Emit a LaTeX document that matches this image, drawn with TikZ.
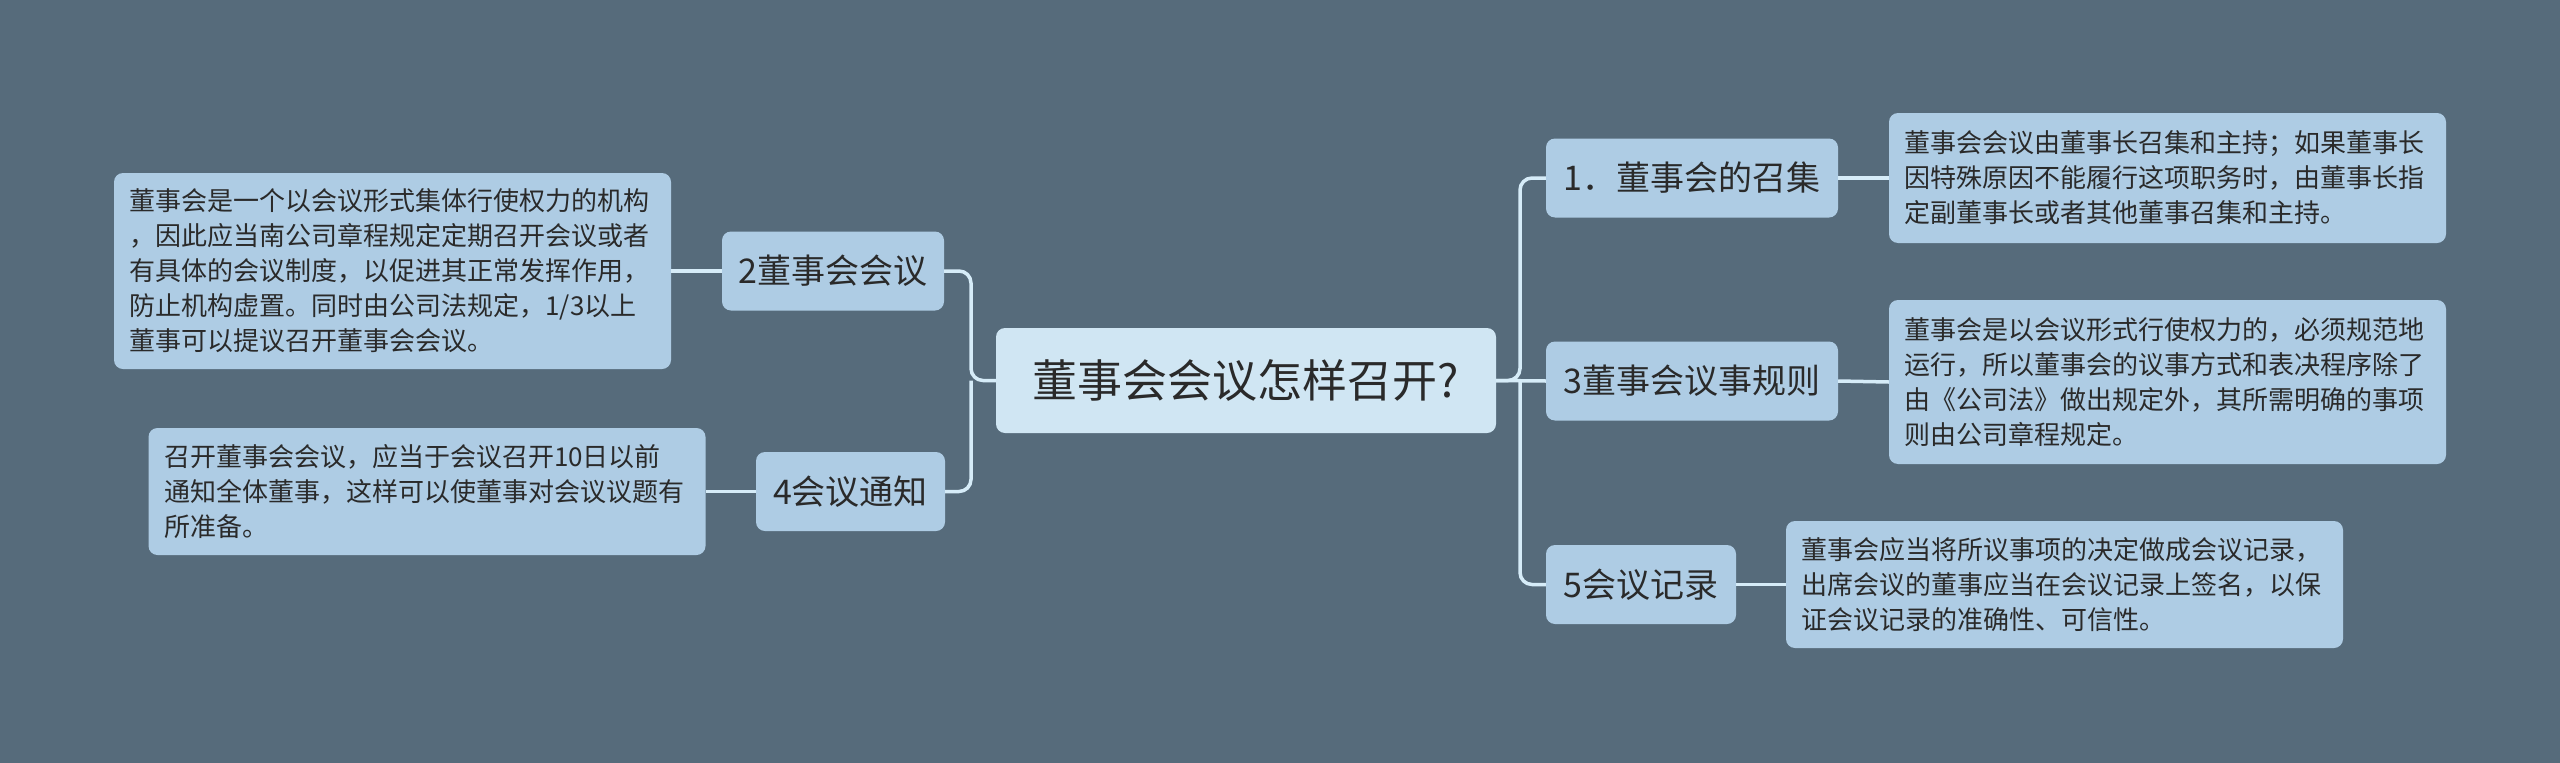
\documentclass[tikz,border=0pt]{standalone}
\usepackage{fontspec}
\setmainfont{Noto Sans CJK SC}
\definecolor{bg}{HTML}{566B7B}
\definecolor{leafc}{HTML}{AECCE4}
\definecolor{rootc}{HTML}{D0E6F3}
\definecolor{connc}{HTML}{D6ECF8}
\definecolor{txt}{HTML}{2A2A2A}
\begin{document}
\begin{tikzpicture}[x=1pt,y=-1pt,
 box/.style={fill=leafc, rounded corners=9pt, text=txt, inner sep=0pt},
 rootbox/.style={box, fill=rootc, font=\fontsize{45}{54}\selectfont, minimum height=105pt, minimum width=500pt},
 mid/.style={box, font=\fontsize{34}{40}\selectfont, minimum height=79pt},
 leafbox/.style={box, font=\fontsize{26}{35}\selectfont, text width=526pt, align=left, inner xsep=15.5pt},
 conn/.style={draw=connc, line width=3.5pt, rounded corners=12pt}]
\fill[bg] (0,0) rectangle (2560,763);
\useasboundingbox (0,0) rectangle (2560,763);

\node[rootbox] (c) at (1246,380.5) {董事会会议怎样召开?};

\node[mid, minimum width=222pt] (n2) at (833,271) {2董事会会议};
\node[mid, minimum width=189pt] (n4) at (850.5,491.5) {4会议通知};
\node[mid, minimum width=292pt] (n1) at (1692,178) {1．董事会的召集};
\node[mid, minimum width=292pt] (n3) at (1692,381) {3董事会议事规则};
\node[mid, minimum width=190pt] (n5) at (1641,584.5) {5会议记录};

\node[leafbox, minimum height=196pt] (l2) at (392.5,271) {董事会是一个以会议形式集体行使权力的机构\\，因此应当南公司章程规定定期召开会议或者\\有具体的会议制度，以促进其正常发挥作用，\\防止机构虚置。同时由公司法规定，1/3以上\\董事可以提议召开董事会会议。};
\node[leafbox, minimum height=127pt] (l4) at (427,491.5) {召开董事会会议，应当于会议召开10日以前\\通知全体董事，这样可以使董事对会议议题有\\所准备。};
\node[leafbox, minimum height=130pt] (r1) at (2167.5,178) {董事会会议由董事长召集和主持；如果董事长\\因特殊原因不能履行这项职务时，由董事长指\\定副董事长或者其他董事召集和主持。};
\node[leafbox, minimum height=164pt] (r3) at (2167.5,382) {董事会是以会议形式行使权力的，必须规范地\\运行，所以董事会的议事方式和表决程序除了\\由《公司法》做出规定外，其所需明确的事项\\则由公司章程规定。};
\node[leafbox, minimum height=127pt] (r5) at (2064.5,584.5) {董事会应当将所议事项的决定做成会议记录，\\出席会议的董事应当在会议记录上签名，以保\\证会议记录的准确性、可信性。};

\coordinate (tr) at (1520,380.5);
\coordinate (tl) at (971,380.5);

\draw[conn] (c.east) -- (tr) |- (n1.west);
\draw[conn] (c.east) -- (n3.west);
\draw[conn] (tr) |- (n5.west);
\draw[conn] (c.west) -- (tl) |- (n2.east);
\draw[conn] (tl) |- (n4.east);

\draw[conn] (n2.west) -- (l2.east);
\draw[conn] (n4.west) -- (l4.east);
\draw[conn] (n1.east) -- (r1.west);
\draw[conn] (n3.east) -- (r3.west);
\draw[conn] (n5.east) -- (r5.west);
\end{tikzpicture}
\end{document}
